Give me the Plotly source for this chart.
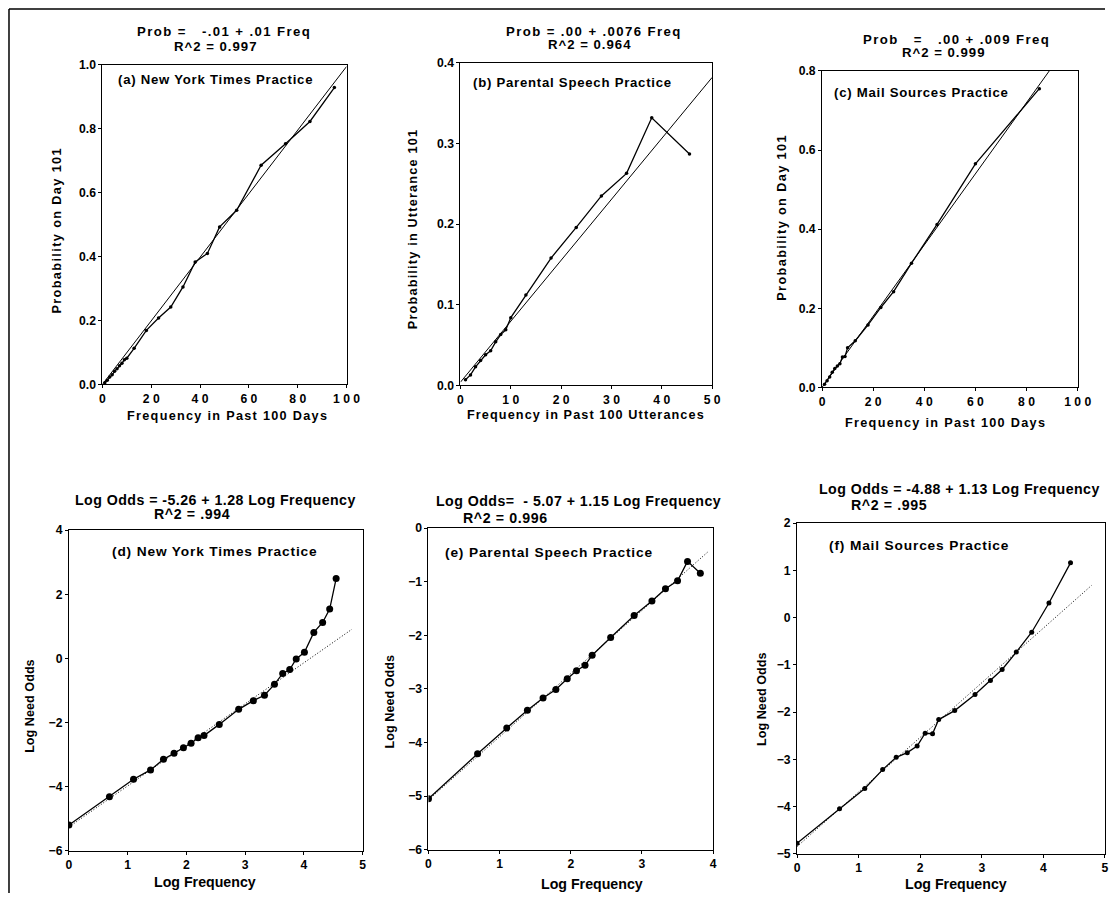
import plotly.graph_objects as go

W, H = 1119, 900

# ---------------- data ----------------
# (a) New York Times practice
a_freq = [1, 2, 3, 4, 5, 6, 7, 8, 9, 10, 13, 18, 23, 28, 33, 38, 43, 48, 55, 65, 75, 85, 95]
a_prob = [0.005, 0.013, 0.023, 0.030, 0.041, 0.049, 0.058, 0.066, 0.077, 0.082, 0.113, 0.169,
          0.208, 0.242, 0.305, 0.383, 0.410, 0.493, 0.545, 0.686, 0.753, 0.823, 0.929]
a_fit_x = [0, 100]
a_fit_y = [0.0, 0.995]

# (b) Parental speech practice
b_freq = [1, 2, 3, 4, 5, 6, 7, 8, 9, 10, 13, 18, 23, 28, 33, 38, 45.5]
b_prob = [0.007, 0.013, 0.023, 0.031, 0.038, 0.043, 0.054, 0.063, 0.069, 0.084, 0.112, 0.158,
          0.196, 0.235, 0.263, 0.332, 0.287]
b_fit_x = [0, 50]
b_fit_y = [0.004, 0.382]

# (c) Mail sources practice
c_freq = [1, 2, 3, 4, 5, 6, 7, 8, 9, 10, 13, 18, 23, 28, 35, 45, 60, 85]
c_prob = [0.008, 0.017, 0.026, 0.038, 0.048, 0.054, 0.060, 0.077, 0.078, 0.100, 0.118, 0.158,
          0.202, 0.242, 0.314, 0.412, 0.565, 0.755]
c_fit_x = [0, 100]
c_fit_y = [0.0, 0.9]

# (d) NYT log-log
d_lf = [0, 0.69, 1.10, 1.39, 1.61, 1.79, 1.95, 2.08, 2.20, 2.30, 2.56, 2.89, 3.14, 3.33, 3.50,
        3.64, 3.76, 3.87, 4.01, 4.17, 4.32, 4.44, 4.55]
d_lo = [-5.20, -4.32, -3.77, -3.48, -3.15, -2.96, -2.79, -2.65, -2.48, -2.41, -2.06, -1.59,
        -1.32, -1.15, -0.81, -0.47, -0.35, -0.02, 0.19, 0.81, 1.12, 1.54, 2.49]
d_fit_x = [0, 4.82]
d_fit_y = [-5.26, 0.91]

# (e) Parental speech log-log
e_lf = [0, 0.69, 1.10, 1.39, 1.61, 1.79, 1.95, 2.08, 2.20, 2.30, 2.56, 2.89, 3.14, 3.33, 3.50,
        3.64, 3.82]
e_lo = [-5.05, -4.21, -3.73, -3.40, -3.17, -3.01, -2.81, -2.66, -2.56, -2.37, -2.04, -1.63,
        -1.36, -1.13, -0.98, -0.62, -0.84]
e_fit_x = [0, 3.92]
e_fit_y = [-5.07, -0.45]

# (f) Mail sources log-log
f_lf = [0, 0.69, 1.10, 1.39, 1.61, 1.79, 1.95, 2.08, 2.20, 2.30, 2.56, 2.89, 3.14, 3.33, 3.56,
        3.81, 4.09, 4.44]
f_lo = [-4.78, -4.05, -3.62, -3.22, -2.96, -2.86, -2.72, -2.45, -2.46, -2.16, -1.97, -1.63,
        -1.33, -1.10, -0.73, -0.31, 0.31, 1.16]
f_fit_x = [0, 4.78]
f_fit_y = [-4.85, 0.68]

# tick labels
a_xticks = [0, 20, 40, 60, 80, 100]
a_xtext = ["0", "2 0", "4 0", "6 0", "8 0", "1 0 0"]
a_yticks = [0, 0.2, 0.4, 0.6, 0.8, 1.0]
a_ytext = ["0.0", "0.2", "0.4", "0.6", "0.8", "1.0"]
b_xticks = [0, 10, 20, 30, 40, 50]
b_xtext = ["0", "1 0", "2 0", "3 0", "4 0", "5 0"]
b_yticks = [0, 0.1, 0.2, 0.3, 0.4]
b_ytext = ["0.0", "0.1", "0.2", "0.3", "0.4"]
c_xticks = a_xticks
c_xtext = a_xtext
c_yticks = [0, 0.2, 0.4, 0.6, 0.8]
c_ytext = ["0.0", "0.2", "0.4", "0.6", "0.8"]
d_xticks = [0, 1, 2, 3, 4, 5]
d_yticks = [-6, -4, -2, 0, 2, 4]
e_xticks = [0, 1, 2, 3, 4]
e_yticks = [-6, -5, -4, -3, -2, -1, 0]
f_xticks = [0, 1, 2, 3, 4, 5]
f_yticks = [-5, -4, -3, -2, -1, 0, 1, 2]

FONT = "Liberation Sans, Arial, Helvetica, sans-serif"

# compensation for the capture (observed shrink/offset of the photographed page)
S, OX, OY = 0.986, 3.0, 7.0
def clamp(v):
    return max(0.0, min(1.0, v))
def fx(px):
    return clamp(((px - OX) / S) / W)
def fy(py):
    return clamp(1 - ((py - OY) / S) / H)
def fs(size):
    return size / S

# panel pixel boxes (reference picture coords): (x0, x1, y0_top, y1_bottom)
panels = [
    dict(box=(102.5, 347, 65, 385), xr=[0, 100], yr=[0, 1.0], xt=a_xticks, xtt=a_xtext, yt=a_yticks, ytt=a_ytext),
    dict(box=(461, 713, 63, 386), xr=[0, 50], yr=[0, 0.4], xt=b_xticks, xtt=b_xtext, yt=b_yticks, ytt=b_ytext),
    dict(box=(823, 1079, 71, 388), xr=[0, 100], yr=[0, 0.8], xt=c_xticks, xtt=c_xtext, yt=c_yticks, ytt=c_ytext),
    dict(box=(69, 363, 531, 852), xr=[0, 5], yr=[-6, 4], xt=d_xticks, xtt=None, yt=d_yticks, ytt=None),
    dict(box=(429, 714, 529, 851), xr=[0, 4], yr=[-6, 0], xt=e_xticks, xtt=None, yt=e_yticks, ytt=None),
    dict(box=(798, 1107, 524, 855), xr=[0, 5], yr=[-5, 2], xt=f_xticks, xtt=None, yt=f_yticks, ytt=None),
]

fig = go.Figure()

series = [
    (a_freq, a_prob, a_fit_x, a_fit_y, 3.5, "solid"),
    (b_freq, b_prob, b_fit_x, b_fit_y, 3.5, "solid"),
    (c_freq, c_prob, c_fit_x, c_fit_y, 3.5, "solid"),
    (d_lf, d_lo, d_fit_x, d_fit_y, 7, "1px,2px"),
    (e_lf, e_lo, e_fit_x, e_fit_y, 7, "1px,2px"),
    (f_lf, f_lo, f_fit_x, f_fit_y, 5, "1px,2px"),
]

tickfont = dict(family=FONT, size=fs(12), color="black", weight="bold")
layout = {}
for i, (p, s) in enumerate(zip(panels, series), start=1):
    xs = "" if i == 1 else str(i)
    x0, x1, y0, y1 = p["box"]
    xa = dict(domain=[fx(x0), fx(x1)], range=p["xr"], anchor="y" + xs,
              showgrid=False, zeroline=False, showline=True, mirror=True,
              linecolor="black", linewidth=1, ticks="outside", ticklen=3,
              tickcolor="black", tickvals=p["xt"], tickfont=tickfont)
    ya = dict(domain=[fy(y1), fy(y0)], range=p["yr"], anchor="x" + xs,
              showgrid=False, zeroline=False, showline=True, mirror=True,
              linecolor="black", linewidth=1, ticks="outside", ticklen=3,
              tickcolor="black", tickvals=p["yt"], tickfont=tickfont)
    if p["xtt"]:
        xa["ticktext"] = p["xtt"]
    if p["ytt"]:
        ya["ticktext"] = p["ytt"]
    layout["xaxis" + xs] = xa
    layout["yaxis" + xs] = ya

    xd, yd, fxv, fyv, msize, dash = s
    fig.add_trace(go.Scatter(x=fxv, y=fyv, mode="lines", xaxis="x" + xs, yaxis="y" + xs,
                             line=dict(color="black", width=1, dash=dash),
                             showlegend=False, hoverinfo="skip"))
    fig.add_trace(go.Scatter(x=xd, y=yd, mode="lines+markers", xaxis="x" + xs, yaxis="y" + xs,
                             line=dict(color="black", width=1.3),
                             marker=dict(color="black", size=msize),
                             showlegend=False, cliponaxis=True))

NB = "\u00a0"
def sp(t, ls):
    t = t.replace("  ", NB + NB)
    if ls:
        return '<span style="letter-spacing:%.2fpx">%s</span>' % (ls, t)
    return t

# text, x, y, size, anchor, angle, letter-spacing
annots = [
    # top equations
    ("Prob =   -.01 + .01 Freq", 224, 32, 13, "center", 0, 1.4),
    ("R^2 = 0.997", 216, 47, 13, "center", 0, 1.0),
    ("Prob = .00 + .0076 Freq", 595, 32, 13, "center", 0, 1.4),
    ("R^2 = 0.964", 591, 45, 13, "center", 0, 1.0),
    ("Prob   =   .00 + .009 Freq", 958, 40, 13, "center", 0, 1.4),
    ("R^2 = 0.999", 945, 53, 13, "center", 0, 1.0),
    # top panel labels
    ("(a) New York Times Practice", 116, 80, 13, "left", 0, 0.75),
    ("(b) Parental Speech Practice", 472, 83, 13, "left", 0, 0.75),
    ("(c) Mail Sources Practice", 833, 93, 13, "left", 0, 0.75),
    # top axis titles
    ("Frequency in Past 100 Days", 228, 417, 12.5, "center", 0, 1.3),
    ("Frequency in Past 100 Utterances", 587, 416, 12.5, "center", 0, 1.1),
    ("Frequency in Past 100 Days", 947, 424, 12.5, "center", 0, 1.3),
    ("Probability on Day 101", 57, 230, 12.5, "center", -90, 1.4),
    ("Probability in Utterance 101", 413, 230, 12.5, "center", -90, 1.2),
    ("Probability on Day 101", 783, 218, 12.5, "center", -90, 1.4),
    # bottom equations
    ("Log Odds = -5.26 + 1.28 Log Frequency", 73, 501, 14, "left", 0, 0.45),
    ("R^2 = .994", 152, 515, 14, "left", 0, 0.6),
    ("Log Odds=  - 5.07 + 1.15 Log Frequency", 435, 502, 14, "left", 0, 0.45),
    ("R^2 = 0.996", 462, 519, 14, "left", 0, 0.6),
    ("Log Odds = -4.88 + 1.13 Log Frequency", 818, 490, 14, "left", 0, 0.45),
    ("R^2 = .995", 850, 506, 14, "left", 0, 0.6),
    # bottom panel labels
    ("(d) New York Times Practice", 110, 552, 13.5, "left", 0, 0.85),
    ("(e) Parental Speech Practice", 444, 553, 13.5, "left", 0, 0.85),
    ("(f) Mail Sources Practice", 828, 546, 13.5, "left", 0, 0.85),
    # bottom axis titles
    ("Log Frequency", 205, 883, 14, "center", 0, 0),
    ("Log Frequency", 593, 885, 14, "center", 0, 0),
    ("Log Frequency", 957, 885, 14, "center", 0, 0),
    ("Log Need Odds", 30, 707, 12.5, "center", -90, 0),
    ("Log Need Odds", 390, 703, 12.5, "center", -90, 0),
    ("Log Need Odds", 763, 700, 12.5, "center", -90, 0),
]

annotations = []
for text, x, y, size, anchor, ang, ls in annots:
    annotations.append(dict(
        text=sp(text, ls), x=fx(x), y=fy(y), xref="paper", yref="paper",
        xanchor=anchor, yanchor="middle", showarrow=False, textangle=ang,
        font=dict(family=FONT, size=fs(size), color="black", weight="bold")))

shapes = [
    dict(type="line", xref="paper", yref="paper", x0=fx(9), x1=1.0, y0=fy(9), y1=fy(9),
         line=dict(color="black", width=1.5)),
    dict(type="line", xref="paper", yref="paper", x0=fx(9), x1=fx(9), y0=fy(9), y1=0,
         line=dict(color="black", width=1.5)),
]

fig.update_layout(
    width=W, height=H, margin=dict(l=0, r=0, t=0, b=0),
    paper_bgcolor="white", plot_bgcolor="white",
    annotations=annotations, shapes=shapes, showlegend=False,
    font=dict(family=FONT, color="black"),
    **layout,
)

post = (
    "var de=document.documentElement, b=document.body;"
    "de.style.margin='0';de.style.padding='0';de.style.overflow='hidden';"
    "b.style.margin='0';b.style.padding='0';b.style.overflow='hidden';"
    "var g=document.querySelector('.plotly-graph-div');"
    "if(g){g.style.position='fixed';g.style.left='0px';g.style.top='0px';}"
)

fig.write_html(
    "out.html",
    config={"responsive": False, "displayModeBar": False},
    post_script=post,
)
